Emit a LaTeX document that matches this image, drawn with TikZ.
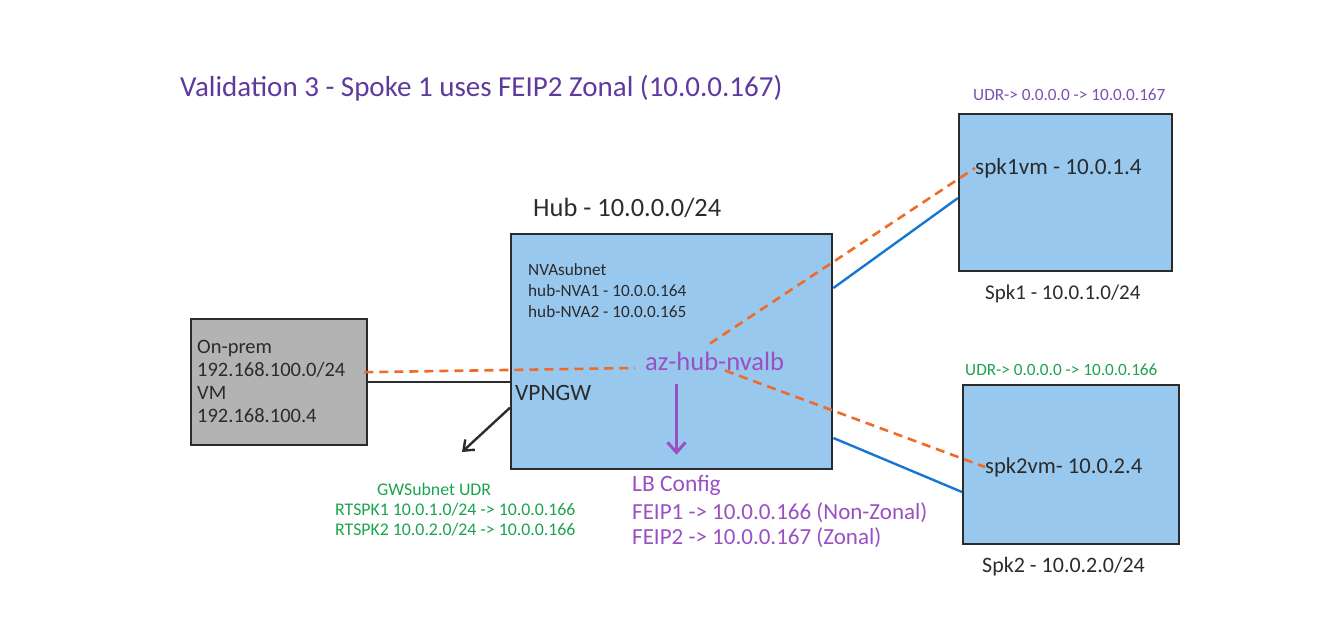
\documentclass[tikz,border=0pt]{standalone}
\usepackage{fontspec}
\setmainfont{Carlito}
\usepackage{tikz}
\usetikzlibrary{positioning}
\usetikzlibrary{calc}
\usetikzlibrary{arrows.meta}
\definecolor{hubfill}{HTML}{99C8EE}
\definecolor{premfill}{HTML}{B3B3B3}
\definecolor{boxline}{HTML}{2B2B2B}
\definecolor{titlepurple}{HTML}{5F3A9E}
\definecolor{udrpurple}{HTML}{7A50B4}
\definecolor{lbpurple}{HTML}{9A4FC2}
\definecolor{udrgreen}{HTML}{1BA34F}
\definecolor{flowcol}{HTML}{F06A28}
\definecolor{peercol}{HTML}{1677D2}
\tikzstyle{vnet}=[draw=boxline, fill=hubfill, line width=2.4pt, anchor=north west, inner sep=0pt]
\tikzstyle{txt}=[anchor=west, inner sep=0pt, text=boxline, align=left]
\tikzstyle{flow_line}=[draw=flowcol, line width=2.6pt, dash pattern=on 9pt off 6pt]
\tikzstyle{peer_line}=[draw=peercol, line width=2.4pt]

\begin{document}
\begin{tikzpicture}[x=1pt, y=-1pt]
\useasboundingbox (0,0) rectangle (1342,640);
\node[txt, text=titlepurple, font=\fontsize{29}{34}\selectfont] (title) at (180,88){Validation 3 - Spoke 1 uses FEIP2 Zonal (10.0.0.167)};
% boxes
\node[vnet, fill=premfill, minimum width=176pt, minimum height=126pt] (onprem) at (190,318){};
\node[vnet, minimum width=321pt, minimum height=235pt] (hub) at (510,233){};
\node[vnet, minimum width=213pt, minimum height=157pt] (spk1) at (958,113){};
\node[vnet, minimum width=216pt, minimum height=159pt] (spk2) at (962,384){};
% texts
\node[txt, font=\fontsize{20.5}{23}\selectfont] (premtxt) at (197,381){On-prem\\192.168.100.0/24\\VM\\192.168.100.4};
\node[txt, font=\fontsize{26.4}{30}\selectfont] (hubname) at (533,208){Hub - 10.0.0.0/24};
\node[txt, font=\fontsize{17.2}{21}\selectfont] (nvasub) at (528,291){NVAsubnet\\hub-NVA1 - 10.0.0.164\\hub-NVA2 - 10.0.0.165};
\node[txt, text=lbpurple, font=\fontsize{26.5}{30}\selectfont] (nvalb) at (645,361){az-hub-nvalb};
\node[txt, font=\fontsize{23.4}{26}\selectfont] (vpngw) at (515,393){VPNGW};
\node[txt, text=lbpurple, font=\fontsize{23.5}{26}\selectfont] (lbcfg) at (632,485){LB Config};
\node[txt, text=lbpurple, font=\fontsize{23}{25}\selectfont] (feip) at (632,525){FEIP1 -> 10.0.0.166 (Non-Zonal)\\FEIP2 -> 10.0.0.167 (Zonal)};
\node[txt, text=udrgreen, font=\fontsize{17.8}{20}\selectfont] (gwudr) at (335,510){\hspace*{42pt}GWSubnet UDR\\RTSPK1 10.0.1.0/24 -> 10.0.0.166\\RTSPK2 10.0.2.0/24 -> 10.0.0.166};
\node[txt, text=udrpurple, font=\fontsize{17.2}{20}\selectfont] (udr1) at (973,95){UDR-> 0.0.0.0 -> 10.0.0.167};
\node[txt, font=\fontsize{23.2}{26}\selectfont] (spk1vm) at (975,168){spk1vm - 10.0.1.4};
\node[txt, font=\fontsize{21}{24}\selectfont] (spk1name) at (985,294){Spk1 - 10.0.1.0/24};
\node[txt, text=udrgreen, font=\fontsize{17.2}{20}\selectfont] (udr2) at (965,370){UDR-> 0.0.0.0 -> 10.0.0.166};
\node[txt, font=\fontsize{22.6}{26}\selectfont] (spk2vm) at (985,467){spk2vm- 10.0.2.4};
\node[txt, font=\fontsize{22}{24}\selectfont] (spk2name) at (982,567){Spk2 - 10.0.2.0/24};
\coordinate (gwend) at (462,452);
% links
\draw[boxline, line width=2.4pt](onprem.east) -- (onprem.east -| hub.west);
\draw[boxline, line width=2.4pt, -{Straight Barb[length=9pt, width=14pt]}]($(hub.west)+(0,56)$) -- (gwend);
\draw[peer_line]($(hub.north east)+(0,55)$) -- ($(spk1.north west)+(0,85)$);
\draw[peer_line]($(hub.north east)+(0,205)$) -- ($(spk2.north west)+(0,108)$);
\draw[flow_line]($(onprem.east)+(-4,-10)$) -- ($(nvalb.west)+(-10,7)$);
\draw[flow_line]($(nvalb.north west)+(65,-8)$) -- (spk1vm.west);
\draw[flow_line]($(nvalb.south west)+(80,0)$) -- (spk2vm.west);
\draw[lbpurple, line width=3pt, -{Straight Barb[length=10pt, width=18pt]}](lbcfg.north |- nvalb.south) ++(0,13) -- ($(lbcfg.north)+(0,-20)$);
\end{tikzpicture}
\end{document}
